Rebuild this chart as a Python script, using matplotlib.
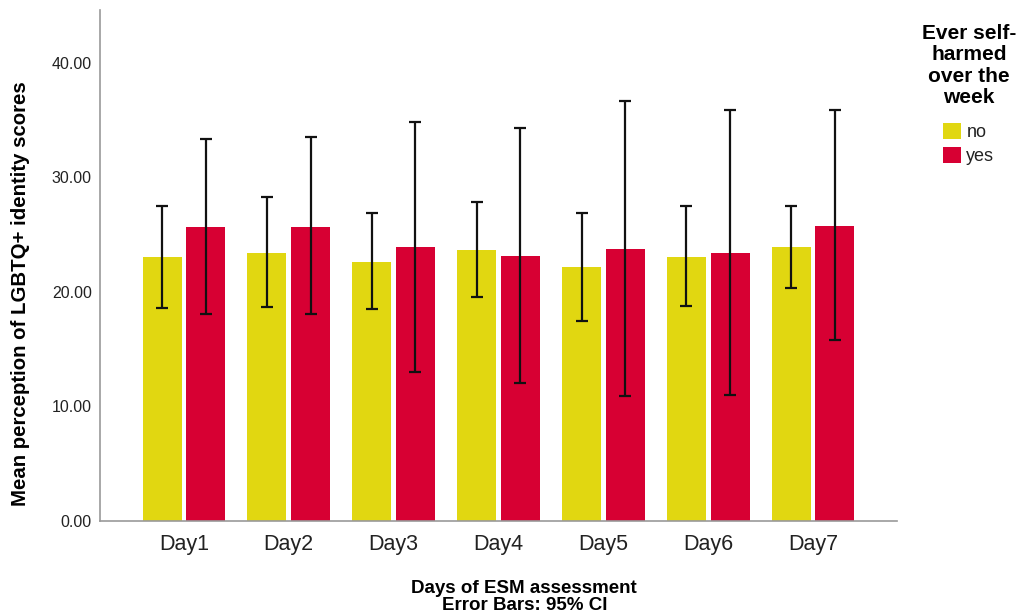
import numpy as np
import matplotlib.pyplot as plt

# Mean scores and 95% CI bounds per day, by self-harm group
days = ['Day1', 'Day2', 'Day3', 'Day4', 'Day5', 'Day6', 'Day7']
groups = ['no', 'yes']

mean_no = [22.99, 23.39, 22.58, 23.60, 22.11, 23.04, 23.89]
ci_lo_no = [18.56, 18.62, 18.47, 19.49, 17.40, 18.71, 20.33]
ci_hi_no = [27.44, 28.25, 26.86, 27.79, 26.88, 27.47, 27.49]

mean_yes = [25.66, 25.66, 23.89, 23.07, 23.74, 23.36, 25.75]
ci_lo_yes = [18.06, 18.01, 13.00, 11.98, 10.90, 10.99, 15.74]
ci_hi_yes = [33.35, 33.47, 34.83, 34.28, 36.61, 35.85, 35.85]

colors = ['#E1D711', '#D70033']
font = 'Liberation Sans'

fig = plt.figure(figsize=(10.26, 6.16), dpi=100)
ax = fig.add_axes([0.0975, 0.155, 0.7768, 0.8288])

x = np.arange(len(days))
width = 0.372
offset = 0.208

series = [(mean_no, ci_lo_no, ci_hi_no), (mean_yes, ci_lo_yes, ci_hi_yes)]
for i, (m, lo, hi) in enumerate(series):
    m = np.array(m)
    err = np.vstack([m - np.array(lo), np.array(hi) - m])
    pos = x + (-offset if i == 0 else offset)
    ax.bar(pos, m, width, color=colors[i], label=groups[i], zorder=2)
    ax.errorbar(pos, m, yerr=err, fmt='none', ecolor='#111111',
                elinewidth=1.6, capsize=4, capthick=1.6, zorder=3)

ax.set_xlim(-0.8, 6.8)
ax.set_ylim(0, 44.6)
ax.set_yticks([0, 10, 20, 30, 40])
ax.set_yticklabels(['0.00', '10.00', '20.00', '30.00', '40.00'],
                   fontsize=11.5, family=font, color='#222222')
ax.set_xticks(x)
ax.set_xticklabels(days, fontsize=15.5, family=font, color='#222222')
ax.tick_params(axis='both', length=0)
ax.tick_params(axis='x', pad=10)
ax.tick_params(axis='y', pad=6)

for s in ['top', 'right']:
    ax.spines[s].set_visible(False)
for s in ['left', 'bottom']:
    ax.spines[s].set_color('#999999')
    ax.spines[s].set_linewidth(1.2)

fig.text(0.0195, 0.523, 'Mean perception of LGBTQ+ identity scores',
         rotation=90, ha='center', va='center', fontsize=14.7,
         fontweight='bold', family=font)
fig.text(0.511, 0.031, 'Days of ESM assessment\nError Bars: 95% CI',
         ha='center', va='center', fontsize=13.5, fontweight='bold',
         family=font, linespacing=1.05)

# legend title as a centred block above the swatches
fig.text(0.9444, 0.8937, 'Ever self-\nharmed\nover the\nweek',
         ha='center', va='center', fontsize=15, fontweight='bold',
         family=font, linespacing=1.16)
leg = ax.legend(loc='upper left', bbox_to_anchor=(0.919, 1 - 123 / 616),
                bbox_transform=fig.transFigure, frameon=False,
                prop={'family': font, 'size': 13}, borderpad=0,
                borderaxespad=0, handlelength=1.0, handleheight=1.0,
                handletextpad=0.3, labelspacing=0.3)
for t in leg.get_texts():
    t.set_color('#222222')

fig.savefig('out.png', dpi=100)
